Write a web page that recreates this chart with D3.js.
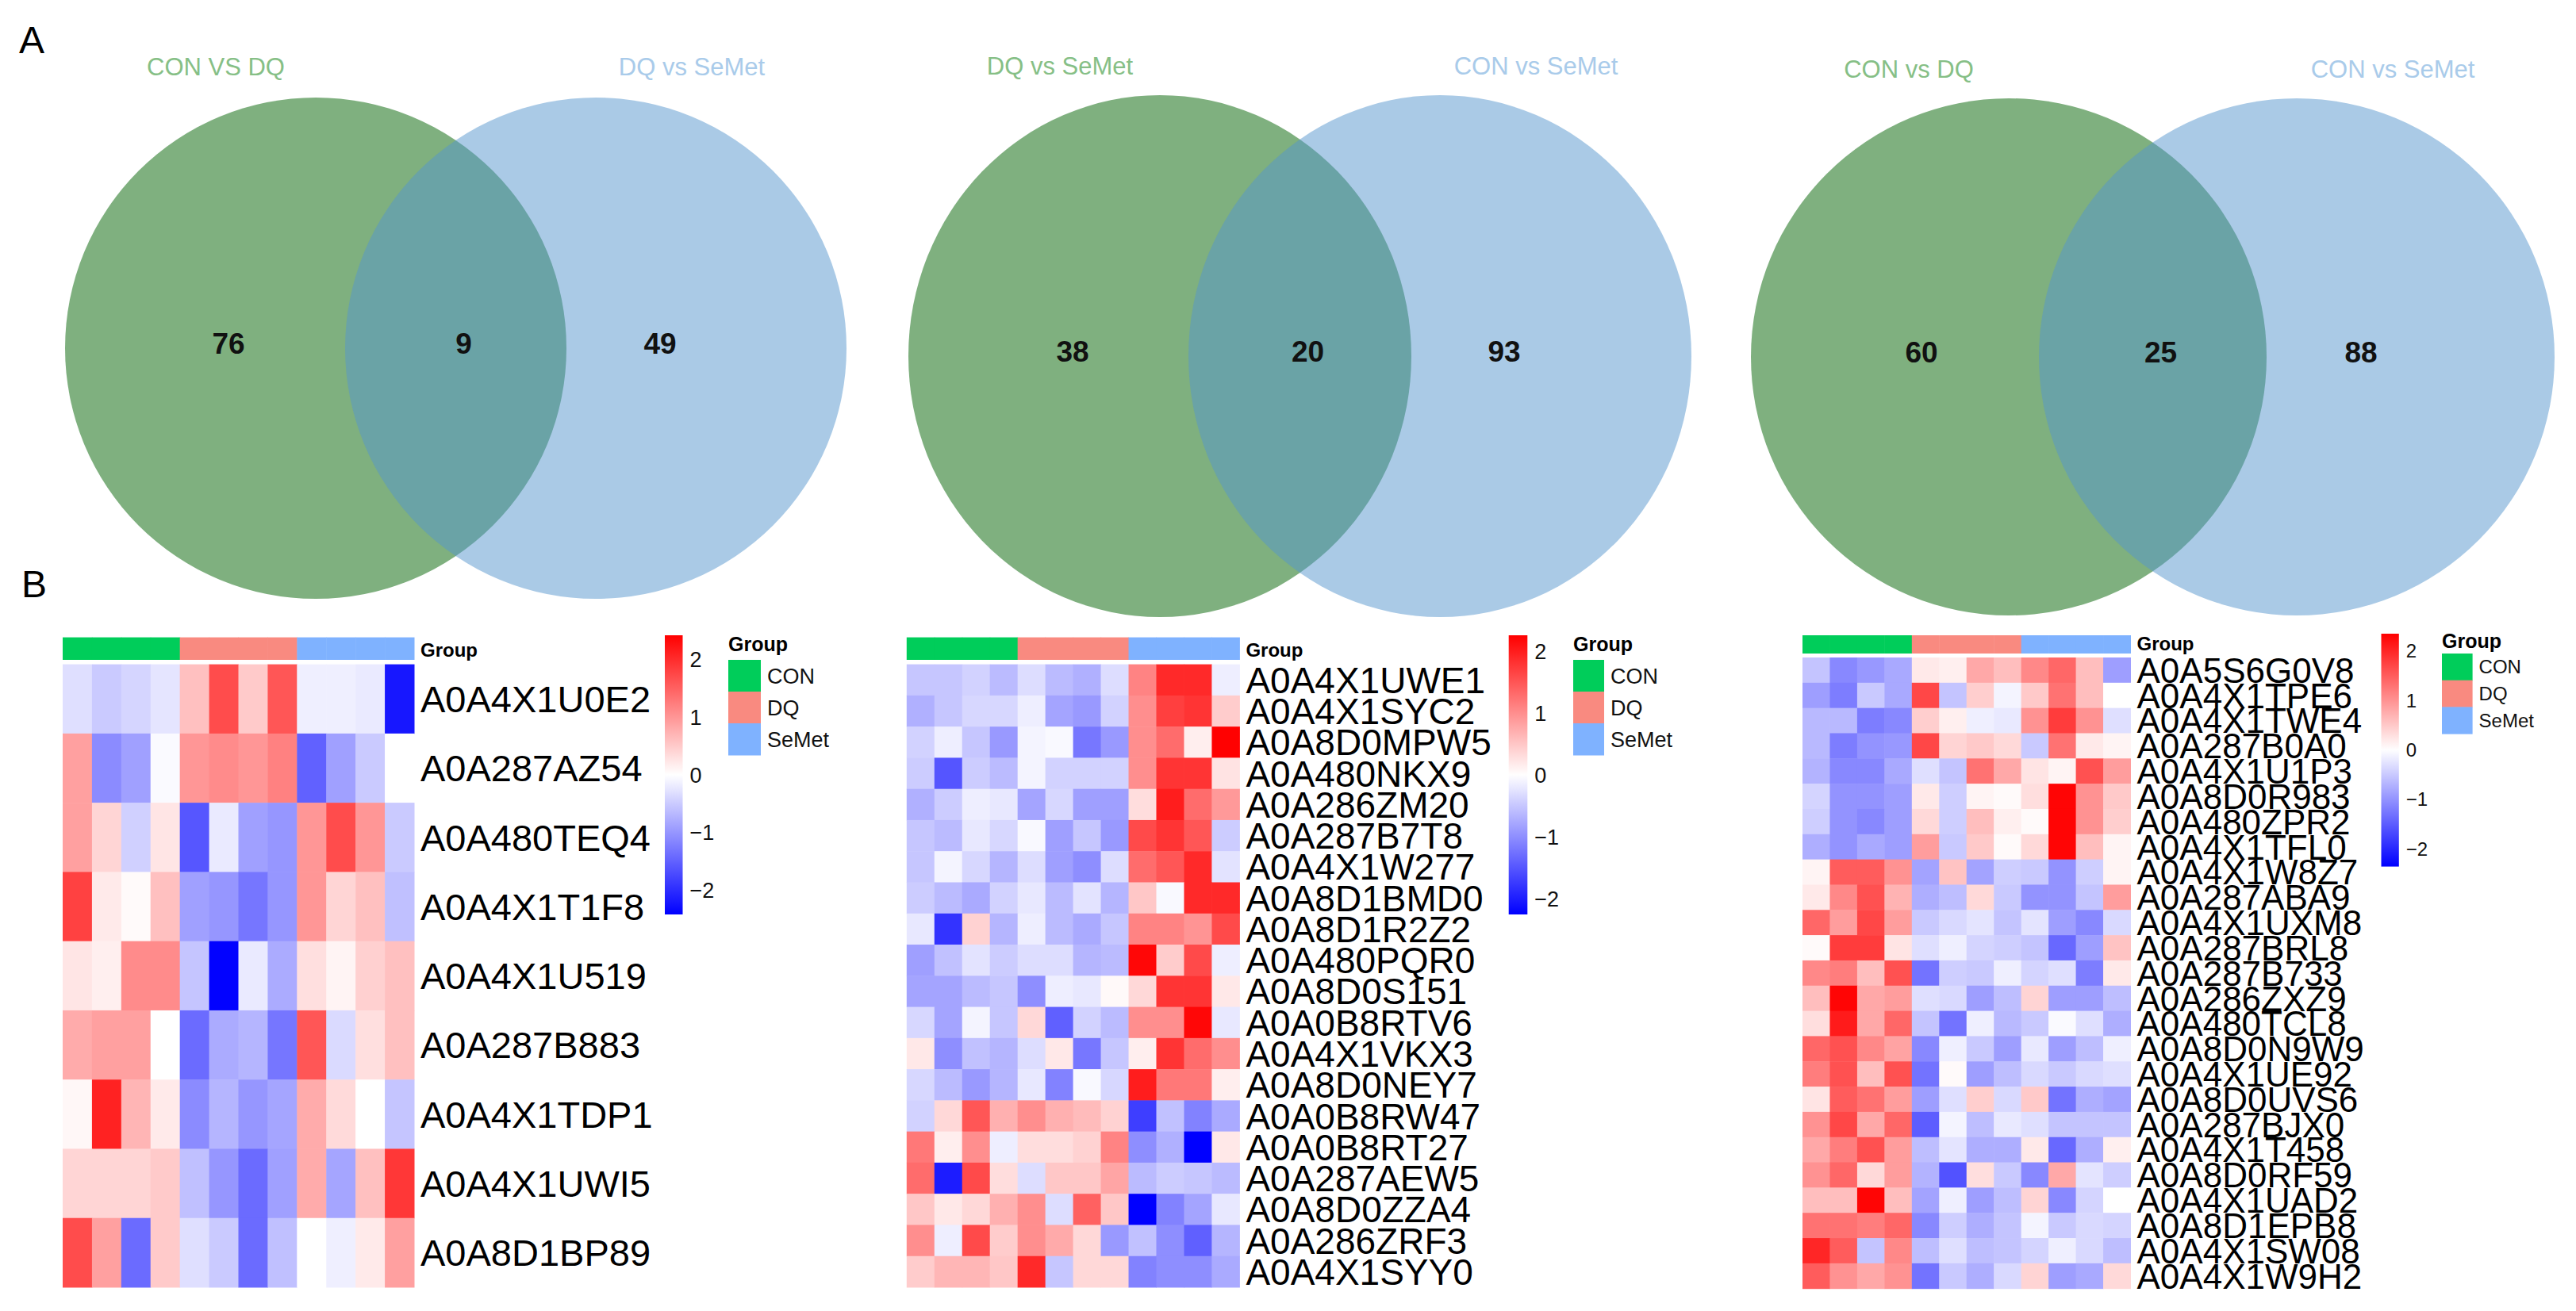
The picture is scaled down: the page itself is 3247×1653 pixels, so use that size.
<!DOCTYPE html>
<html>
<head>
<meta charset="utf-8">
<script src="https://cdn.jsdelivr.net/npm/d3@7"></script>
<style>
  body { margin: 0; background: #fff; }
  svg { display: block; font-family: "Liberation Sans", Arial, sans-serif; }
</style>
</head>
<body>
<div id="chart"></div>
<script>
// ---- data ----
const groups = ["CON", "DQ", "SeMet"];
const groupColors = ["#00CD5A", "#F98A80", "#7FB2FF"];
const samples = groups.flatMap((g) => [1, 2, 3, 4].map((i) => g + i));

// venn: [left only, shared, right only]
const vennNames = [
  ["CON VS DQ", "DQ vs SeMet"],
  ["DQ vs SeMet", "CON vs SeMet"],
  ["CON vs DQ", "CON vs SeMet"],
];
const vennCounts = [
  [76, 9, 49],
  [38, 20, 93],
  [60, 25, 88],
];

const hm1Rows = ["A0A4X1U0E2", "A0A287AZ54", "A0A480TEQ4", "A0A4X1T1F8", "A0A4X1U519",
  "A0A287B883", "A0A4X1TDP1", "A0A4X1UWI5", "A0A8D1BP89"];
const hm1Values = [
  [-0.3, -0.5, -0.4, -0.25, 0.6, 1.7, 0.5, 1.6, -0.15, -0.15, -0.2, -2.2],
  [0.9, -1.1, -0.9, -0.05, 1.0, 1.1, 1.0, 1.2, -1.5, -0.9, -0.5, 0.0],
  [0.9, 0.4, -0.45, 0.25, -1.6, -0.2, -0.9, -1.0, 1.0, 1.7, 1.0, -0.5],
  [1.8, 0.2, 0.05, 0.6, -0.9, -1.0, -1.3, -1.0, 1.0, 0.4, 0.6, -0.6],
  [0.25, 0.15, 1.1, 1.1, -0.55, -2.4, -0.2, -0.8, 0.3, 0.1, 0.45, 0.6],
  [0.8, 0.9, 0.9, 0.0, -1.4, -0.8, -0.7, -1.3, 1.6, -0.35, 0.3, 0.6],
  [0.08, 2.1, 0.7, 0.2, -1.1, -0.7, -1.0, -0.85, 0.8, 0.35, 0.0, -0.55],
  [0.4, 0.4, 0.4, 0.5, -0.6, -1.0, -1.4, -0.9, 0.8, -0.85, 0.6, 1.9],
  [1.7, 0.9, -1.4, 0.5, -0.3, -0.5, -1.4, -0.6, 0.0, -0.15, 0.2, 0.9],
];

const hm2Rows = ["A0A4X1UWE1", "A0A4X1SYC2", "A0A8D0MPW5", "A0A480NKX9", "A0A286ZM20",
  "A0A287B7T8", "A0A4X1W277", "A0A8D1BMD0", "A0A8D1R2Z2", "A0A480PQR0", "A0A8D0S151",
  "A0A0B8RTV6", "A0A4X1VKX3", "A0A8D0NEY7", "A0A0B8RW47", "A0A0B8RT27", "A0A287AEW5",
  "A0A8D0ZZA4", "A0A286ZRF3", "A0A4X1SYY0"];
const hm2Values = [
  [-0.5, -0.5, -0.4, -0.6, -0.3, -0.6, -0.7, -0.3, 1.1, 1.9, 1.9, -0.15],
  [-0.7, -0.5, -0.35, -0.35, -0.15, -0.8, -0.9, -0.4, 1.0, 1.7, 1.8, 0.45],
  [-0.4, -0.15, -0.5, -0.9, -0.1, -0.05, -1.2, -0.9, 1.0, 1.3, 0.15, 2.25],
  [-0.45, -1.5, -0.45, -0.6, -0.1, -0.4, -0.4, -0.4, 1.0, 1.8, 1.8, 0.25],
  [-0.7, -0.45, -0.15, -0.2, -0.8, -0.35, -0.85, -0.85, 0.3, 2.0, 1.3, 0.9],
  [-0.5, -0.6, -0.2, -0.35, -0.05, -0.85, -0.5, -0.9, 1.6, 1.8, 1.5, -0.45],
  [-0.5, -0.1, -0.35, -0.65, -0.3, -0.85, -1.0, -0.3, 1.3, 1.5, 1.9, -0.25],
  [-0.45, -0.6, -0.75, -0.4, -0.2, -0.6, -0.25, -0.65, 0.5, -0.05, 1.9, 1.9],
  [-0.2, -1.8, 0.4, -0.65, -0.15, -0.6, -0.75, -0.5, 1.1, 1.1, 0.95, 1.6],
  [-0.85, -0.55, -0.25, -0.45, -0.3, -0.3, -0.65, -0.6, 2.2, 0.45, 1.6, -0.15],
  [-0.8, -0.8, -0.6, -0.5, -1.0, -0.15, -0.2, 0.05, 0.35, 1.8, 1.8, 0.2],
  [-0.35, -0.8, -0.1, -0.5, 0.35, -1.4, -0.4, -0.6, 1.0, 1.0, 2.2, -0.2],
  [0.2, -1.0, -0.55, -0.65, -0.3, 0.2, -1.2, -0.5, 0.15, 1.8, 1.3, 1.0],
  [-0.35, -0.6, -0.9, -0.65, -0.2, -1.1, -0.05, -0.35, 2.0, 1.2, 1.2, 0.15],
  [-0.4, 0.35, 1.5, 0.7, 1.0, 0.7, 0.6, 0.4, -1.7, -0.55, -1.1, -0.75],
  [1.2, 0.15, 1.0, -0.15, 0.3, 0.3, 0.4, 1.1, -1.0, -0.7, -2.3, 0.2],
  [1.3, -2.0, 1.6, 0.3, -0.3, 0.5, 0.5, 0.8, -0.6, -0.45, -0.5, -0.6],
  [0.5, 0.2, 0.35, 0.7, 1.0, -0.3, 1.4, 0.5, -2.3, -1.1, -0.8, -0.2],
  [1.0, -0.15, 1.6, 0.45, 1.0, 0.75, 0.35, -0.9, -0.55, -1.0, -1.4, -0.65],
  [0.45, 0.65, 0.65, 0.5, 1.9, -0.5, 0.35, 0.35, -1.1, -1.0, -1.0, -0.75],
];

const hm3Rows = ["A0A5S6G0V8", "A0A4X1TPE6", "A0A4X1TWE4", "A0A287B0A0", "A0A4X1U1P3",
  "A0A8D0R983", "A0A480ZPR2", "A0A4X1TFL0", "A0A4X1W8Z7", "A0A287ABA9", "A0A4X1UXM8",
  "A0A287BRL8", "A0A287B733", "A0A286ZXZ9", "A0A480TCL8", "A0A8D0N9W9", "A0A4X1UE92",
  "A0A8D0UVS6", "A0A287BJX0", "A0A4X1T458", "A0A8D0RF59", "A0A4X1UAD2", "A0A8D1EPB8",
  "A0A4X1SW08", "A0A4X1W9H2"];
const hm3Values = [
  [-0.55, -1.1, -0.95, -0.8, 0.2, 0.15, 0.8, 0.6, 1.1, 1.4, 0.6, -0.9],
  [-0.9, -1.2, -0.5, -0.8, 1.7, -0.55, 0.45, -0.1, 0.5, 1.3, 0.6, 0.0],
  [-0.65, -0.65, -1.2, -1.1, 0.45, 0.15, -0.15, -0.2, 1.0, 1.8, 1.0, -0.3],
  [-0.65, -1.2, -1.0, -0.95, 1.7, 0.4, 0.5, 0.35, -0.5, 1.3, 0.2, 0.1],
  [-0.7, -1.1, -1.1, -0.8, -0.3, -0.55, 1.3, 0.8, 0.25, 0.1, 1.6, 0.9],
  [-0.4, -1.0, -1.0, -0.9, 0.2, -0.45, 0.1, 0.05, 0.3, 2.3, 1.0, 0.5],
  [-0.45, -1.0, -1.1, -0.9, 0.35, -0.45, 0.6, 0.15, 0.05, 2.3, 1.0, 0.45],
  [-0.75, -1.0, -0.8, -0.9, 0.9, -0.5, 0.5, 0.05, 0.35, 2.3, 0.6, 0.1],
  [0.1, 1.5, 1.5, 1.0, -0.85, 0.55, -0.85, -0.45, -0.5, -1.0, -0.45, 0.1],
  [0.2, 1.1, 1.6, 0.7, -0.75, -0.6, 0.35, -0.5, -1.0, -1.0, -0.55, 0.9],
  [1.4, 0.9, 1.7, 0.9, -0.5, -0.35, -0.25, -0.55, -0.25, -0.9, -1.1, -0.35],
  [0.05, 1.8, 1.8, 0.25, -0.3, -0.15, -0.4, -0.45, -0.55, -1.4, -0.9, 0.55],
  [1.1, 1.2, 0.6, 1.6, -1.3, -0.45, -0.5, -0.15, -0.4, -0.3, -1.2, 0.2],
  [0.6, 2.3, 0.8, 0.9, -0.3, -0.35, -0.9, -0.6, 0.4, -0.9, -0.9, -0.6],
  [0.3, 2.1, 0.8, 1.4, -0.55, -1.3, -0.15, -0.65, -0.5, -0.05, -0.3, -0.75],
  [1.4, 1.6, 1.1, 0.85, -1.1, -0.15, -0.5, -0.9, -0.2, -0.9, -0.6, -0.15],
  [1.2, 1.6, 0.6, 1.6, -1.3, 0.05, -0.9, -0.6, -0.35, -0.5, -0.35, -0.3],
  [0.25, 1.5, 1.3, 0.9, -0.9, -0.3, 0.45, -0.35, 0.5, -1.3, -0.75, -0.85],
  [1.0, 1.7, 0.8, 1.4, -1.5, -0.1, -0.6, -0.2, -0.3, -0.55, -0.55, -0.55],
  [0.8, 1.2, 1.6, 0.9, -0.6, -0.25, -0.75, -0.75, 0.2, -1.4, -0.75, 0.15],
  [1.0, 1.4, 0.35, 0.9, -0.7, -1.6, 0.3, -0.5, -1.1, 0.8, -0.25, -0.45],
  [0.6, 0.6, 2.3, 0.6, -0.85, -0.15, -0.9, -0.6, 0.4, -1.1, -0.4, 0.0],
  [1.3, 1.3, 1.2, 1.4, -1.1, -0.45, -0.75, -0.55, -0.1, -0.5, -0.35, -0.4],
  [2.0, 1.5, -0.55, 1.1, -0.6, -0.3, -0.6, -0.55, -0.4, -0.15, -0.35, -0.6],
  [1.5, 1.0, 0.8, 1.0, -1.3, -0.5, -0.75, -0.35, 0.4, -0.9, -0.8, 0.35],
];

const legendTicks = [-2, -1, 0, 1, 2];
const heatmapLimits = [[-2.42, 2.42], [-2.25, 2.26], [-2.36, 2.35]];

// ---- layout ----
const W = 3247, H = 1653;
const svg = d3.select("#chart").append("svg").attr("width", W).attr("height", H);

const vennLayout = [
  { lc: [398, 439], rc: [751, 439], rx: 316, ry: 316, labelY: 95 },
  { lc: [1462, 449], rc: [1815, 449], rx: 317, ry: 329, labelY: 94 },
  { lc: [2532, 450], rc: [2895, 450], rx: 325, ry: 326, labelY: 98 },
];

const hmLayout = [
  { x0: 79, x1: 522, barY: 803.6, barH: 28.4, y0: 837.6, y1: 1623, font: 47,
    cbX: 838, cbW: 22.5, cbY0: 801, cbY1: 1153, tickFont: 27,
    legX: 918, legTitleY: 821, legBoxY: 832, legBoxW: 41, legBoxH: 40, legFont: 27 },
  { x0: 1142.8, x1: 1562.4, barY: 803.6, barH: 28.4, y0: 837.6, y1: 1623, font: 46,
    cbX: 1901.7, cbW: 23.6, cbY0: 801, cbY1: 1153, tickFont: 27,
    legX: 1983, legTitleY: 821, legBoxY: 832, legBoxW: 39, legBoxH: 40, legFont: 27 },
  { x0: 2272, x1: 2685.5, barY: 801, barH: 23, y0: 829, y1: 1624.7, font: 44,
    cbX: 3001.5, cbW: 22.3, cbY0: 799, cbY1: 1092.6, tickFont: 24,
    legX: 3078, legTitleY: 817, legBoxY: 824, legBoxW: 38.6, legBoxH: 33.7, legFont: 24 },
];

// panel letters
svg.append("text").attr("x", 24).attr("y", 67).attr("font-size", 48).text("A");
svg.append("text").attr("x", 27).attr("y", 753).attr("font-size", 48).text("B");

// ---- venn diagrams ----
function drawVenn(names, counts, L) {
  const g = svg.append("g");
  g.append("ellipse")
    .attr("cx", L.lc[0]).attr("cy", L.lc[1]).attr("rx", L.rx).attr("ry", L.ry)
    .attr("fill", "#006100").attr("fill-opacity", 0.5);
  g.append("ellipse")
    .attr("cx", L.rc[0]).attr("cy", L.rc[1]).attr("rx", L.rx).attr("ry", L.ry)
    .attr("fill", "#5596CE").attr("fill-opacity", 0.5);

  g.append("text")
    .attr("x", L.lc[0] - 126).attr("y", L.labelY)
    .attr("text-anchor", "middle").attr("font-size", 31)
    .attr("fill", "#86BF86").text(names[0]);
  g.append("text")
    .attr("x", L.rc[0] + 121).attr("y", L.labelY)
    .attr("text-anchor", "middle").attr("font-size", 31)
    .attr("fill", "#A9CBEA").text(names[1]);

  const cy = (L.lc[1] + L.rc[1]) / 2 - 6;
  const xs = [L.lc[0] - 110, (L.lc[0] + L.rc[0]) / 2 + 10, L.rc[0] + 81];
  g.selectAll("text.count")
    .data(counts)
    .join("text")
    .attr("class", "count")
    .attr("x", (d, i) => xs[i])
    .attr("y", cy)
    .attr("dy", "0.36em")
    .attr("text-anchor", "middle")
    .attr("font-size", 37)
    .attr("font-weight", "bold")
    .attr("fill", "#111")
    .text((d) => d);
}

vennNames.forEach((n, i) => drawVenn(n, vennCounts[i], vennLayout[i]));

// ---- heatmaps ----
function drawHeatmap(rows, values, lim, L, idx) {
  const g = svg.append("g");
  const x = d3.scaleBand().domain(samples).range([L.x0, L.x1]);
  const y = d3.scaleBand().domain(rows).range([L.y0, L.y1]);
  const color = d3.scaleLinear()
    .domain([lim[0], 0, lim[1]])
    .range(["#0000FF", "#FFFFFF", "#FF0000"])
    .clamp(true);
  const grp = d3.scaleOrdinal().domain(groups).range(groupColors);

  // annotation bar
  g.selectAll("rect.anno")
    .data(samples)
    .join("rect")
    .attr("class", "anno")
    .attr("x", (d) => x(d))
    .attr("y", L.barY)
    .attr("width", x.bandwidth() + 0.5)
    .attr("height", L.barH)
    .attr("fill", (d) => grp(d.replace(/\d+$/, "")));
  g.append("text")
    .attr("x", L.x1 + 8).attr("y", L.barY + L.barH - 4)
    .attr("font-size", 24).attr("font-weight", "bold").text("Group");

  // cells
  const cells = [];
  rows.forEach((r, i) => samples.forEach((s, j) => cells.push({ r, s, v: values[i][j] })));
  g.selectAll("rect.cell")
    .data(cells)
    .join("rect")
    .attr("class", "cell")
    .attr("x", (d) => x(d.s))
    .attr("y", (d) => y(d.r))
    .attr("width", x.bandwidth() + 0.5)
    .attr("height", y.bandwidth() + 0.5)
    .attr("fill", (d) => color(d.v));

  // row labels
  g.selectAll("text.row")
    .data(rows)
    .join("text")
    .attr("class", "row")
    .attr("x", L.x1 + 8)
    .attr("y", (d) => y(d) + y.bandwidth() / 2)
    .attr("dy", "0.36em")
    .attr("font-size", L.font)
    .attr("fill", "#000")
    .text((d) => d);

  // colour key
  const gradId = "grad" + idx;
  const grad = svg.append("defs").append("linearGradient")
    .attr("id", gradId).attr("x1", 0).attr("y1", 1).attr("x2", 0).attr("y2", 0);
  d3.range(0, 1.0001, 0.05).forEach((t) => {
    grad.append("stop").attr("offset", t)
      .attr("stop-color", color(lim[0] + t * (lim[1] - lim[0])));
  });
  g.append("rect")
    .attr("x", L.cbX).attr("y", L.cbY0)
    .attr("width", L.cbW).attr("height", L.cbY1 - L.cbY0)
    .attr("fill", `url(#${gradId})`);
  const ky = d3.scaleLinear().domain(lim).range([L.cbY1, L.cbY0]);
  g.selectAll("text.tick")
    .data(legendTicks)
    .join("text")
    .attr("class", "tick")
    .attr("x", L.cbX + L.cbW + 9)
    .attr("y", (d) => ky(d))
    .attr("dy", "0.36em")
    .attr("font-size", L.tickFont)
    .attr("fill", "#111")
    .text((d) => d3.format("d")(d));

  // group legend
  g.append("text")
    .attr("x", L.legX).attr("y", L.legTitleY)
    .attr("font-size", 25).attr("font-weight", "bold").text("Group");
  g.selectAll("rect.leg")
    .data(groups)
    .join("rect")
    .attr("class", "leg")
    .attr("x", L.legX)
    .attr("y", (d, i) => L.legBoxY + i * L.legBoxH)
    .attr("width", L.legBoxW)
    .attr("height", L.legBoxH + 0.5)
    .attr("fill", (d) => grp(d));
  g.selectAll("text.leg")
    .data(groups)
    .join("text")
    .attr("class", "leg")
    .attr("x", L.legX + L.legBoxW + 8)
    .attr("y", (d, i) => L.legBoxY + (i + 0.5) * L.legBoxH)
    .attr("dy", "0.36em")
    .attr("font-size", L.legFont)
    .attr("fill", "#111")
    .text((d) => d);
}

drawHeatmap(hm1Rows, hm1Values, heatmapLimits[0], hmLayout[0], 0);
drawHeatmap(hm2Rows, hm2Values, heatmapLimits[1], hmLayout[1], 1);
drawHeatmap(hm3Rows, hm3Values, heatmapLimits[2], hmLayout[2], 2);
</script>
</body>
</html>
